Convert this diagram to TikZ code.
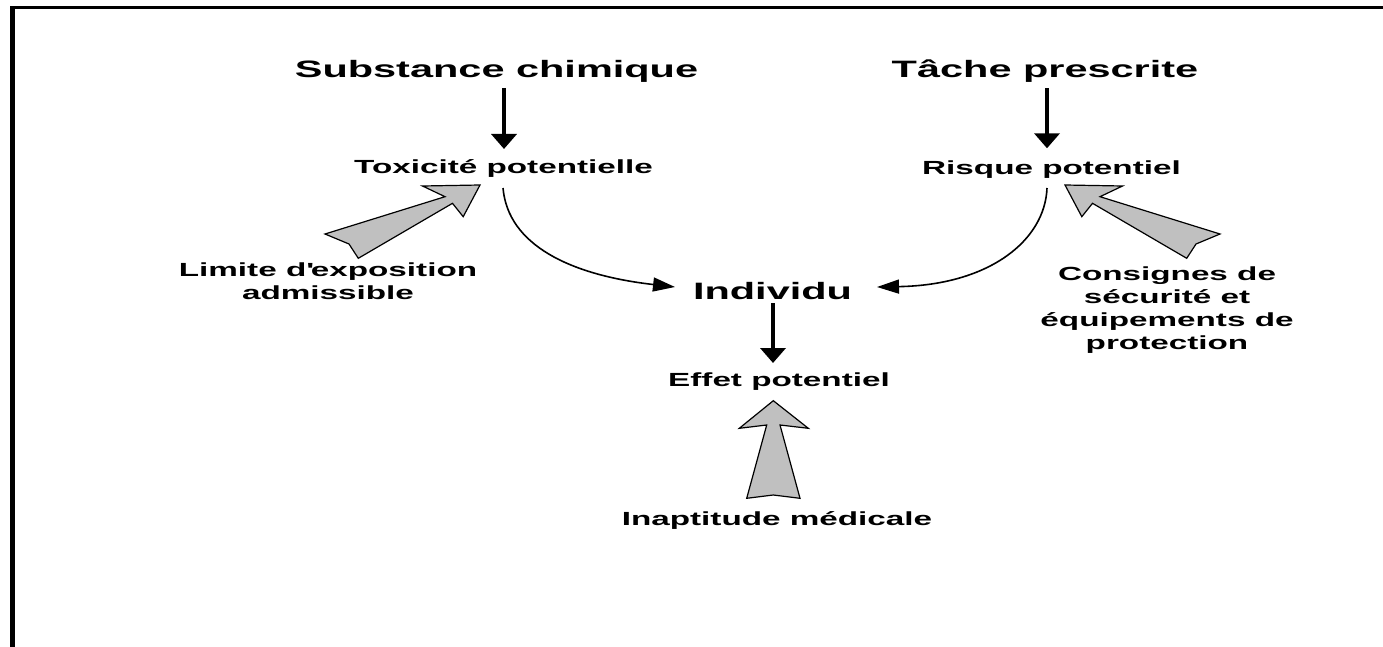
\documentclass[tikz,border=0pt]{standalone}
\usepackage{fontspec}
\setmainfont{Liberation Sans}[FakeStretch=1.75]
\usetikzlibrary{arrows.meta}
\definecolor{arrgray}{HTML}{C0C0C0}
\newcommand\sidearrowpath{(0,0) -- (57.5,1) -- (35,11.7) -- (155,49) -- (131,59) -- (121.7,73.3) -- (27.5,18.3) -- (16.8,31.7) -- cycle}
\tikzset{
  bigtext/.style={font=\bfseries\fontsize{23.7}{28}\selectfont, inner sep=0pt, anchor=base},
  smalltext/.style={font=\bfseries\fontsize{19}{23.3}\selectfont, inner sep=0pt, anchor=base, align=center},
  bigarr/.style={line width=3.8pt, -{Triangle[length=15pt,width=25pt]}},
  curvarr/.style={line width=1.6pt, -{Triangle[length=22pt,width=14pt]}},
  blockarrow/.style={fill=arrgray, draw=black, line width=1.2pt, line join=miter},
  framestyle/.style={draw=black}
}
\begin{document}
\begin{tikzpicture}[x=1pt,y=-1pt]
\useasboundingbox (0,0) rectangle (1383,647);
% frame (top and left edges)
\draw[framestyle, line width=3pt] (10,8) -- (1383,8);
\draw[framestyle, line width=5pt] (12.3,6.5) -- (12.3,647);

% nodes (multi-line nodes: base = last line baseline)
\node[bigtext] (subst) at (496.5,77.7) {Substance chimique};
\node[bigtext] (task) at (1045,77.3) {Tâche prescrite};
\node[smalltext] (tox) at (503.5,174) {Toxicité potentielle};
\node[smalltext] (risk) at (1051.5,175) {Risque potentiel};
\node[bigtext] (ind) at (772.5,299) {Individu};
\node[smalltext] (eff) at (779,386.7) {Effet potentiel};
\node[smalltext] (lim) at (328,299.3) {Limite d\textquotesingle exposition\\admissible};
\node[smalltext] (cons) at (1167,349.9) {Consignes de\\sécurité et\\équipements de\\protection};
\node[smalltext] (inap) at (777,525) {Inaptitude médicale};

% straight black arrows
\draw[bigarr] ([xshift=7.5pt,yshift=-10.3pt]subst.base) -- ([xshift=0.5pt,yshift=25pt]tox.base);
\draw[bigarr] ([xshift=2pt,yshift=-11pt]task.base) -- ([xshift=-4.5pt,yshift=26.7pt]risk.base);
\draw[bigarr] ([xshift=0.5pt,yshift=-4pt]ind.base) -- ([xshift=-6pt,yshift=23.7pt]eff.base);

% curved arrows
\draw[curvarr] ([xshift=-0.5pt,yshift=-14pt]tox.base) .. controls +(5,57) and +(-105,-12) .. ([xshift=-97.5pt,yshift=12pt]ind.base);
\draw[curvarr] ([xshift=-4.5pt,yshift=-13pt]risk.base) .. controls +(-2,52) and +(113,-2) .. ([xshift=104.5pt,yshift=12pt]ind.base);

% gray block arrows
\draw[blockarrow, shift={(480,185)}, xscale=-1] \sidearrowpath;
\draw[blockarrow, shift={(1065,185)}] \sidearrowpath;
\draw[blockarrow] (773.3,400.7) -- (808.3,428.3) -- (780,425) -- (800,498.3) -- (773.3,495) -- (746.7,498.3) -- (766.7,425) -- (739.3,428.3) -- cycle;
\end{tikzpicture}
\end{document}
